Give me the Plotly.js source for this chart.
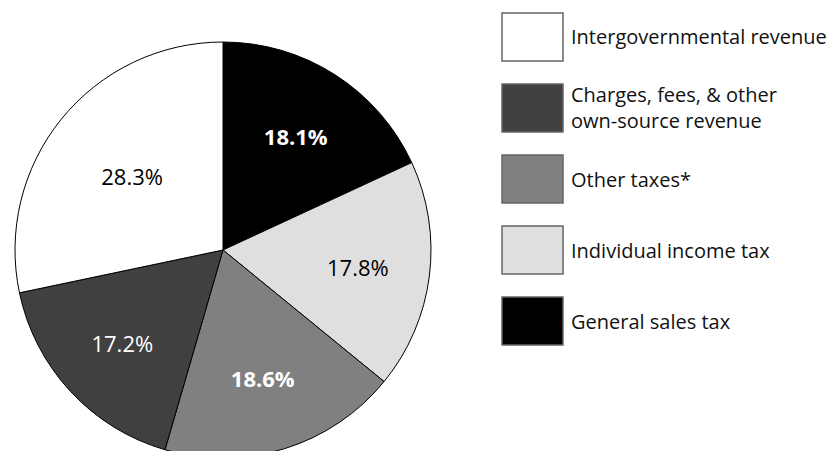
<!DOCTYPE html>
<html>
<head>
<meta charset="utf-8">
<script src="https://cdn.plot.ly/plotly-3.0.1.min.js"></script>
<style>
html,body{margin:0;padding:0;background:#fff;overflow:hidden;width:833px;height:451px;}
#chart{width:833px;height:500px;}
</style>
</head>
<body>
<div id="chart"></div>
<script>
// Data (clockwise from 12 o'clock)
const categories = ["General sales tax", "Individual income tax", "Other taxes*", "Charges, fees, & other own-source revenue", "Intergovernmental revenue"];
const shares = [18.1, 17.8, 18.6, 17.2, 28.3];
const sliceColors = ["#000000", "#dfdfdf", "#808080", "#404040", "#ffffff"];
// Legend (top to bottom)
const legendLabels = ["Intergovernmental revenue", "Charges, fees, & other<br>own-source revenue", "Other taxes*", "Individual income tax", "General sales tax"];
const legendColors = ["#ffffff", "#404040", "#808080", "#dfdfdf", "#000000"];

const W = 833, H = 500;
const font = "Open Sans, Noto Sans, DejaVu Sans, sans-serif";
const px = x => x / W;
const py = y => (H - y) / H;

const cx = 223, cy = 250, r = 208;

const trace = {
  type: "pie",
  labels: categories,
  values: shares,
  sort: false,
  direction: "clockwise",
  rotation: 0,
  marker: {colors: sliceColors, line: {color: "#000", width: 1}},
  textposition: "inside",
  insidetextorientation: "horizontal",
  texttemplate: ["<b>%{value:.1f}%</b>", "%{value:.1f}%", "<b>%{value:.1f}%</b>", "%{value:.1f}%", "%{value:.1f}%"],
  textfont: {family: font, size: 22, color: ["#fff", "#000", "#fff", "#fff", "#000"]},
  hoverinfo: "label+percent",
  domain: {x: [px(cx - r), px(cx + r)], y: [py(cy + r), py(cy - r)]}
};

const shapes = [], annotations = [];
const boxX0 = 502, boxX1 = 563, boxH = 48, top0 = 13, step = 71;
legendLabels.forEach((t, i) => {
  const y0 = top0 + i * step;
  shapes.push({type: "rect", xref: "paper", yref: "paper",
    x0: px(boxX0), x1: px(boxX1), y0: py(y0 + boxH), y1: py(y0),
    fillcolor: legendColors[i], line: {color: "#666", width: 1.5}});
  annotations.push({xref: "paper", yref: "paper", x: px(569), y: py(y0 + boxH / 2),
    xanchor: "left", yanchor: "middle", align: "left", showarrow: false, text: t,
    font: {family: font, size: 20, color: "#111"}});
});

Plotly.newPlot("chart", [trace], {
  width: W, height: H,
  margin: {l: 0, r: 0, t: 0, b: 0},
  paper_bgcolor: "#fff",
  showlegend: false,
  shapes: shapes,
  annotations: annotations
}, {displayModeBar: false, staticPlot: true});
</script>
</body>
</html>
